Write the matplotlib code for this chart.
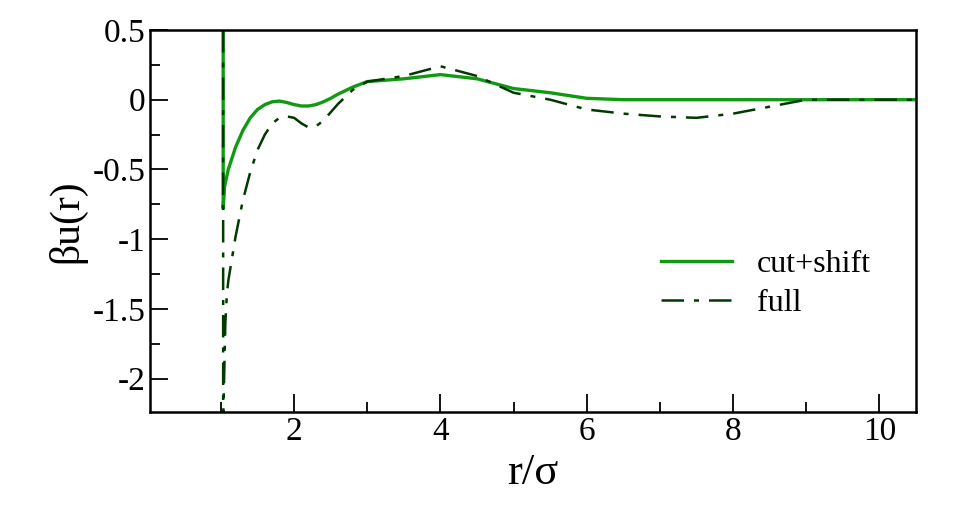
import numpy as np
import matplotlib.pyplot as plt
from matplotlib.ticker import MultipleLocator

plt.rcParams['font.family'] = ['Liberation Serif', 'DejaVu Serif']

# cut+shift potential
r_cut = [1.03, 1.03, 1.05, 1.1, 1.2, 1.3, 1.4, 1.5, 1.6, 1.7, 1.8, 1.9, 2.0, 2.1, 2.2, 2.3, 2.4, 2.5,
         2.6, 2.8, 3.0, 3.5, 4.0, 4.5, 5.0, 5.5, 6.0, 6.5, 7.0, 8.0, 9.0, 10.0, 10.5]
u_cut = [0.5, -0.78, -0.62, -0.5, -0.34, -0.22, -0.13, -0.07, -0.035, -0.015, -0.01, -0.02, -0.035,
         -0.045, -0.045, -0.035, -0.015, 0.01, 0.04, 0.09, 0.13, 0.15, 0.18, 0.15, 0.08, 0.05,
         0.01, 0.0, 0.0, 0.0, 0.0, 0.0, 0.0]

# full potential
r_full = [1.03, 1.03, 1.06, 1.08, 1.1, 1.2, 1.3, 1.4, 1.5, 1.6, 1.7, 1.8, 1.9, 2.0, 2.1, 2.2, 2.3, 2.4,
          2.5, 2.6, 2.8, 3.0, 3.5, 4.0, 4.5, 5.0, 5.5, 6.0, 6.5, 7.0, 7.5, 8.0, 8.5, 9.0, 9.5, 10.0, 10.5]
u_full = [0.5, -2.3, -1.6, -1.4, -1.3, -0.98, -0.72, -0.52, -0.36, -0.25, -0.17, -0.13, -0.12, -0.13,
          -0.17, -0.2, -0.19, -0.15, -0.09, -0.03, 0.07, 0.13, 0.17, 0.24, 0.17, 0.05, 0.0, -0.07,
          -0.1, -0.12, -0.13, -0.1, -0.05, 0.0, 0.0, 0.0, 0.0]

fig = plt.figure(figsize=(9.74, 5.25), dpi=100)
ax = fig.add_axes([150 / 974, 1 - 412 / 525, 766 / 974, 382 / 525])

ax.plot(r_cut, u_cut, '-', color='#119a11', lw=2.4, label='cut+shift')
ax.plot(r_full, u_full, color='#013a01', lw=1.8, dashes=[9, 4, 2, 4], label='full')

ax.set_xlim(0.03, 10.5)
ax.set_ylim(-2.24, 0.5)
ax.xaxis.set_major_locator(MultipleLocator(2))
ax.xaxis.set_minor_locator(MultipleLocator(1))
ax.yaxis.set_major_locator(MultipleLocator(0.5))
ax.yaxis.set_minor_locator(MultipleLocator(0.25))
ax.tick_params(which='both', direction='in', top=False, right=False, labelsize=24, width=1.3)
ax.tick_params(which='major', length=13)
ax.tick_params(which='minor', length=7)
ax.set_yticks([0.5, 0, -0.5, -1, -1.5, -2])
ax.set_yticklabels(['0.5', '0', '-0.5', '-1', '-1.5', '-2'])
for s in ax.spines.values():
    s.set_linewidth(1.8)

ax.set_xlabel('r/σ', fontsize=32)
ax.set_ylabel('βu(r)', fontsize=30)
ax.legend(loc='upper left', bbox_to_anchor=(0.63, 0.5), frameon=False, fontsize=23,
          handlelength=2.2, labelspacing=0.3)

fig.savefig('out.png', dpi=100)
